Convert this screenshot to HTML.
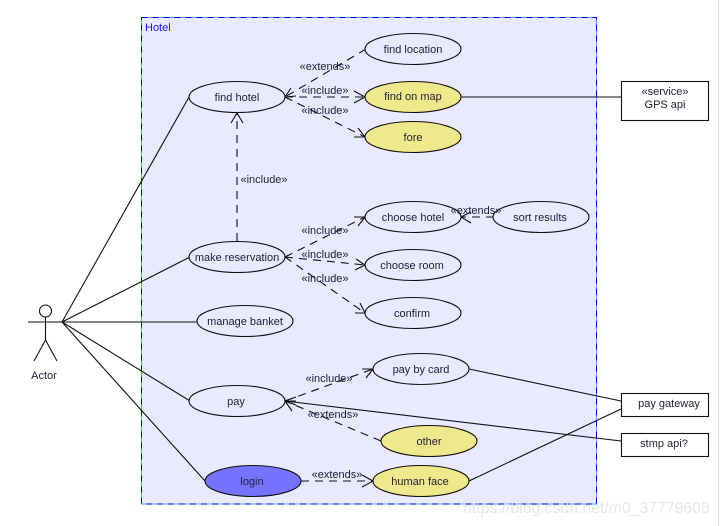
<!DOCTYPE html>
<html>
<head>
<meta charset="utf-8">
<style>
html,body{margin:0;padding:0;background:#fff;width:720px;height:526px;overflow:hidden}
svg{display:block}
text{font-family:"Liberation Sans",sans-serif;font-size:11px;fill:#222238;text-anchor:middle}
ellipse{stroke:#111;stroke-width:1.1;fill:#e9e9ff}
.y{fill:#eeea8c}
.l{stroke:#111;stroke-width:1.1;fill:none}
.d{stroke:#111;stroke-width:1.1;fill:none;stroke-dasharray:8 6}
.a{stroke:#111;stroke-width:1.1;fill:none}
rect.b{fill:#fff;stroke:#111;stroke-width:1.1}
</style>
</head>
<body>
<svg width="720" height="526" viewBox="0 0 720 526" xmlns="http://www.w3.org/2000/svg">
<line x1="718.5" y1="0" x2="718.5" y2="526" stroke="#d8d8d8"/>
<rect x="141.5" y="17.5" width="455" height="486.5" fill="#e9e9ff" stroke="#4aa8ff"/>
<rect x="141.5" y="17.5" width="455" height="486.5" fill="none" stroke="#0000e0" stroke-dasharray="6 5"/>
<text x="145" y="31" style="text-anchor:start;fill:#1a1aff">Hotel</text>

<!-- actor -->
<circle cx="45.5" cy="311" r="6" fill="#fff" stroke="#111" stroke-width="1.1"/>
<path class="l" d="M45.5 317V340M28 322H62M45.5 340L34 361M45.5 340L57 361"/>
<text x="44" y="379">Actor</text>

<!-- actor links -->
<path class="l" d="M62 322L189 97M62 322L190 257M62 322H197M62 322L190 401M62 322L205 481"/>

<!-- solid links -->
<path class="l" d="M461 97H621M469 369L621 401M285 401L621 441M469 481L621 409"/>

<!-- dashed -->
<path class="d" d="M366 49L285 97"/>
<path class="a" d="M291 88L285 97L296 96"/>
<path class="d" d="M285 97H365"/>
<path class="a" d="M354 91L365 97L354 103"/>
<path class="d" d="M285 97L365 137"/>
<path class="a" d="M354 137H365L358 128"/>
<path class="d" d="M237 241V113"/>
<path class="a" d="M231 123L237 113L243 123"/>
<path class="d" d="M285 257L365 217"/>
<path class="a" d="M354 217H365L358 226"/>
<path class="d" d="M285 257L365 265"/>
<path class="a" d="M356 259L365 265L355 270"/>
<path class="d" d="M285 257L365 313"/>
<path class="a" d="M355 313H365L360 303"/>
<path class="d" d="M494 217H461"/>
<path class="a" d="M471 212L461 217L471 223"/>
<path class="d" d="M285 401L373 369"/>
<path class="a" d="M362 369H373L366 378"/>
<path class="d" d="M381 441L285 401"/>
<path class="a" d="M296 401H285L292 411"/>
<path class="a" d="M296 397L285 401L296 405"/>
<path class="d" d="M301 481H373"/>
<path class="a" d="M362 475L373 481L362 487"/>

<!-- ellipses -->
<ellipse cx="237" cy="97" rx="48" ry="15.5"/>
<ellipse cx="413" cy="49" rx="48" ry="15.5"/>
<ellipse class="y" cx="413" cy="97" rx="48" ry="15.5"/>
<ellipse class="y" cx="413" cy="137" rx="48" ry="15.5"/>
<ellipse cx="237" cy="257" rx="48" ry="15.5"/>
<ellipse cx="413" cy="217" rx="48" ry="15.5"/>
<ellipse cx="413" cy="265" rx="48" ry="15.5"/>
<ellipse cx="413" cy="313" rx="48" ry="15.5"/>
<ellipse cx="541" cy="217" rx="48" ry="15.5"/>
<ellipse cx="245" cy="321" rx="48" ry="15.5"/>
<ellipse cx="237" cy="401" rx="48" ry="15.5"/>
<ellipse cx="421" cy="369" rx="48" ry="15.5"/>
<ellipse class="y" cx="429" cy="441" rx="48" ry="15.5"/>
<ellipse cx="253" cy="481" rx="48" ry="15.5" style="fill:#7373ff"/>
<ellipse class="y" cx="421" cy="481" rx="48" ry="15.5"/>

<!-- labels -->
<text x="237" y="101">find hotel</text>
<text x="413" y="53">find location</text>
<text x="413" y="100">find on map</text>
<text x="413" y="141">fore</text>
<text x="237" y="261">make reservation</text>
<text x="413" y="221">choose hotel</text>
<text x="412" y="269">choose room</text>
<text x="412" y="317">confirm</text>
<text x="540" y="221">sort results</text>
<text x="245" y="325">manage banket</text>
<text x="236" y="405">pay</text>
<text x="421" y="373">pay by card</text>
<text x="429" y="445">other</text>
<text x="252" y="485">login</text>
<text x="420" y="485">human face</text>

<text x="325" y="70">«extends»</text>
<text x="325" y="94">«include»</text>
<text x="325" y="114">«include»</text>
<text x="264" y="183">«include»</text>
<text x="325" y="234">«include»</text>
<text x="325" y="258">«include»</text>
<text x="325" y="282">«include»</text>
<text x="476" y="214">«extends»</text>
<text x="329" y="382">«include»</text>
<text x="333" y="418">«extends»</text>
<text x="337" y="478">«extends»</text>

<!-- boxes -->
<rect class="b" x="621.5" y="81.5" width="87" height="39"/>
<text x="665" y="95">«service»</text>
<text x="665" y="108">GPS api</text>
<rect class="b" x="621.5" y="393.5" width="87" height="23"/>
<text x="669" y="407">pay gateway</text>
<rect class="b" x="621.5" y="433.5" width="87" height="23"/>
<text x="664" y="447">stmp api?</text>

<text x="463" y="513" style="text-anchor:start;font-size:15.8px;fill:#e2e2ea;opacity:.85">https://blog.csdn.net/m0_37779608</text>
</svg>
</body>
</html>
